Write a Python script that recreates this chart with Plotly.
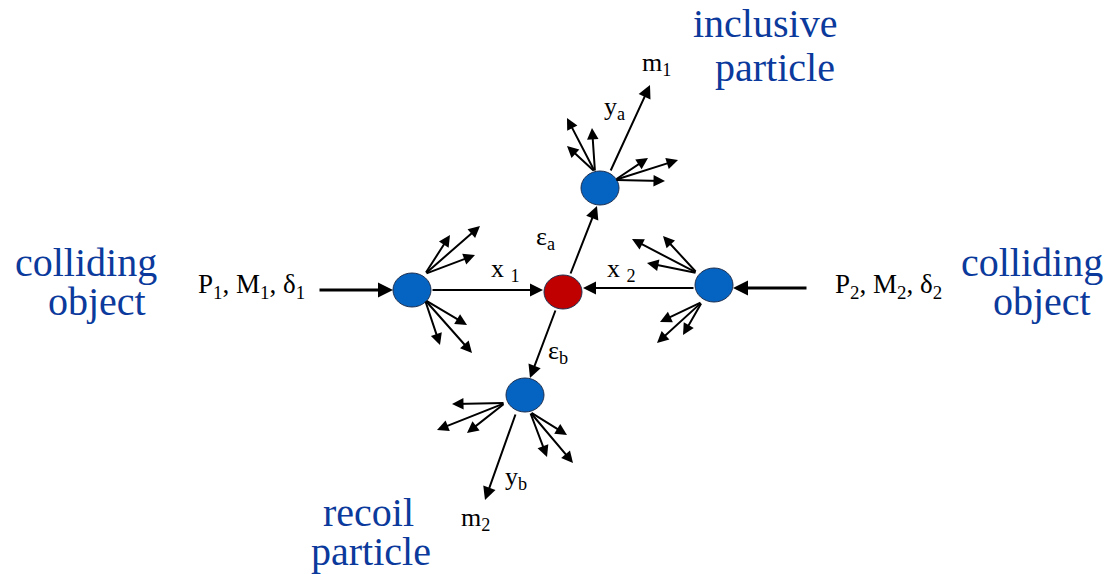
import plotly.graph_objects as go

W, H = 1109, 574

# Nodes
node_names = ["left", "right", "top", "bottom", "center"]
node_x = [412, 714, 600, 525, 563]
node_y = [290, 285, 188, 395, 292]
node_colors = ["#0563c1", "#0563c1", "#0563c1", "#0563c1", "#c00000"]

# main arrows: tail (x,y) -> head (x,y), width
main_tail_x = [318, 431, 808, 695, 570, 556, 610, 516]
main_tail_y = [290, 290, 288, 288, 275, 309, 172, 413]
main_head_x = [393, 543, 733, 583, 597, 530, 650, 485]
main_head_y = [290, 290, 288, 288, 206, 378, 85, 500]
main_width = [3, 2, 3, 2, 2, 2, 2, 2]

# spray arrows from each blue blob
spray_tail_x = [595, 595, 595, 615, 615, 615,
                425, 425, 425, 425, 425, 425,
                697, 697, 697, 702, 702, 702,
                505, 505, 505, 530, 530, 530]
spray_tail_y = [172, 172, 172, 180, 180, 180,
                274, 274, 274, 300, 300, 300,
                273, 273, 273, 302, 302, 302,
                403, 403, 403, 412, 412, 412]
spray_head_x = [567, 592, 567, 678, 648, 665,
                450, 480, 475, 467, 440, 472,
                632, 663, 647, 660, 657, 683,
                452, 437, 467, 567, 547, 573]
spray_head_y = [118, 128, 146, 160, 158, 181,
                235, 226, 255, 325, 345, 353,
                239, 236, 263, 322, 343, 335,
                404, 430, 433, 435, 457, 463]

# blue captions
cap_text = ["colliding", "object", "colliding", "object",
            "inclusive", "particle", "recoil", "particle"]
cap_x = [86, 97, 1032, 1042, 765, 775, 368, 371]
cap_y = [262, 301, 262, 301, 23, 67, 512, 551]

# math labels
lab_text = ["P<sub>1</sub>, M<sub>1</sub>, δ<sub>1</sub>",
            "P<sub>2</sub>, M<sub>2</sub>, δ<sub>2</sub>",
            "x <sub>1</sub>", "x <sub>2</sub>",
            "ε<sub>a</sub>", "ε<sub>b</sub>",
            "y<sub>a</sub>", "y<sub>b</sub>",
            "m<sub>1</sub>", "m<sub>2</sub>"]
lab_x = [251, 888, 505, 621, 545, 558, 614, 516, 656, 475]
lab_y = [286, 286, 270, 270, 238, 352, 108, 478, 64, 519]
lab_size = [27, 27, 26, 26, 26, 26, 26, 26, 26, 26]

fig = go.Figure()
fig.add_trace(go.Scatter(x=[0, W], y=[0, H], mode="markers",
                         marker=dict(opacity=0), hoverinfo="skip", showlegend=False))

anns = []
for tx, ty, hx, hy, w in zip(main_tail_x, main_tail_y, main_head_x, main_head_y, main_width):
    anns.append(dict(x=hx, y=hy, ax=tx, ay=ty, xref="x", yref="y", axref="x", ayref="y",
                     showarrow=True, arrowhead=2, arrowsize=1.3 if w == 2 else 1.0,
                     arrowwidth=w, arrowcolor="black", standoff=0, startstandoff=0, text=""))
for tx, ty, hx, hy in zip(spray_tail_x, spray_tail_y, spray_head_x, spray_head_y):
    anns.append(dict(x=hx, y=hy, ax=tx, ay=ty, xref="x", yref="y", axref="x", ayref="y",
                     showarrow=True, arrowhead=2, arrowsize=1.15, arrowwidth=2,
                     arrowcolor="black", standoff=0, text=""))
for t, x, y in zip(cap_text, cap_x, cap_y):
    anns.append(dict(x=x, y=y, xref="x", yref="y", text=t, showarrow=False,
                     font=dict(family="Liberation Serif", size=40, color="#0b3a9c"),
                     xanchor="center", yanchor="middle"))
for t, x, y, s in zip(lab_text, lab_x, lab_y, lab_size):
    anns.append(dict(x=x, y=y, xref="x", yref="y", text=t, showarrow=False,
                     font=dict(family="Liberation Serif", size=s, color="black"),
                     xanchor="center", yanchor="middle"))

shapes = []
for x, y, c in zip(node_x, node_y, node_colors):
    shapes.append(dict(type="circle", xref="x", yref="y",
                       x0=x - 19, x1=x + 19, y0=y - 17, y1=y + 17,
                       fillcolor=c, line=dict(color="#1f3050", width=1), layer="above"))

fig.update_layout(
    width=W, height=H, margin=dict(l=0, r=0, t=0, b=0, pad=0),
    paper_bgcolor="white", plot_bgcolor="white",
    xaxis=dict(range=[0, W], visible=False, fixedrange=True),
    yaxis=dict(range=[H, 0], visible=False, fixedrange=True),
    annotations=anns, shapes=shapes, showlegend=False,
)
fig.write_html("out.html", config={"displayModeBar": False},
               post_script="document.body.style.margin='0';document.body.style.overflow='hidden';")
